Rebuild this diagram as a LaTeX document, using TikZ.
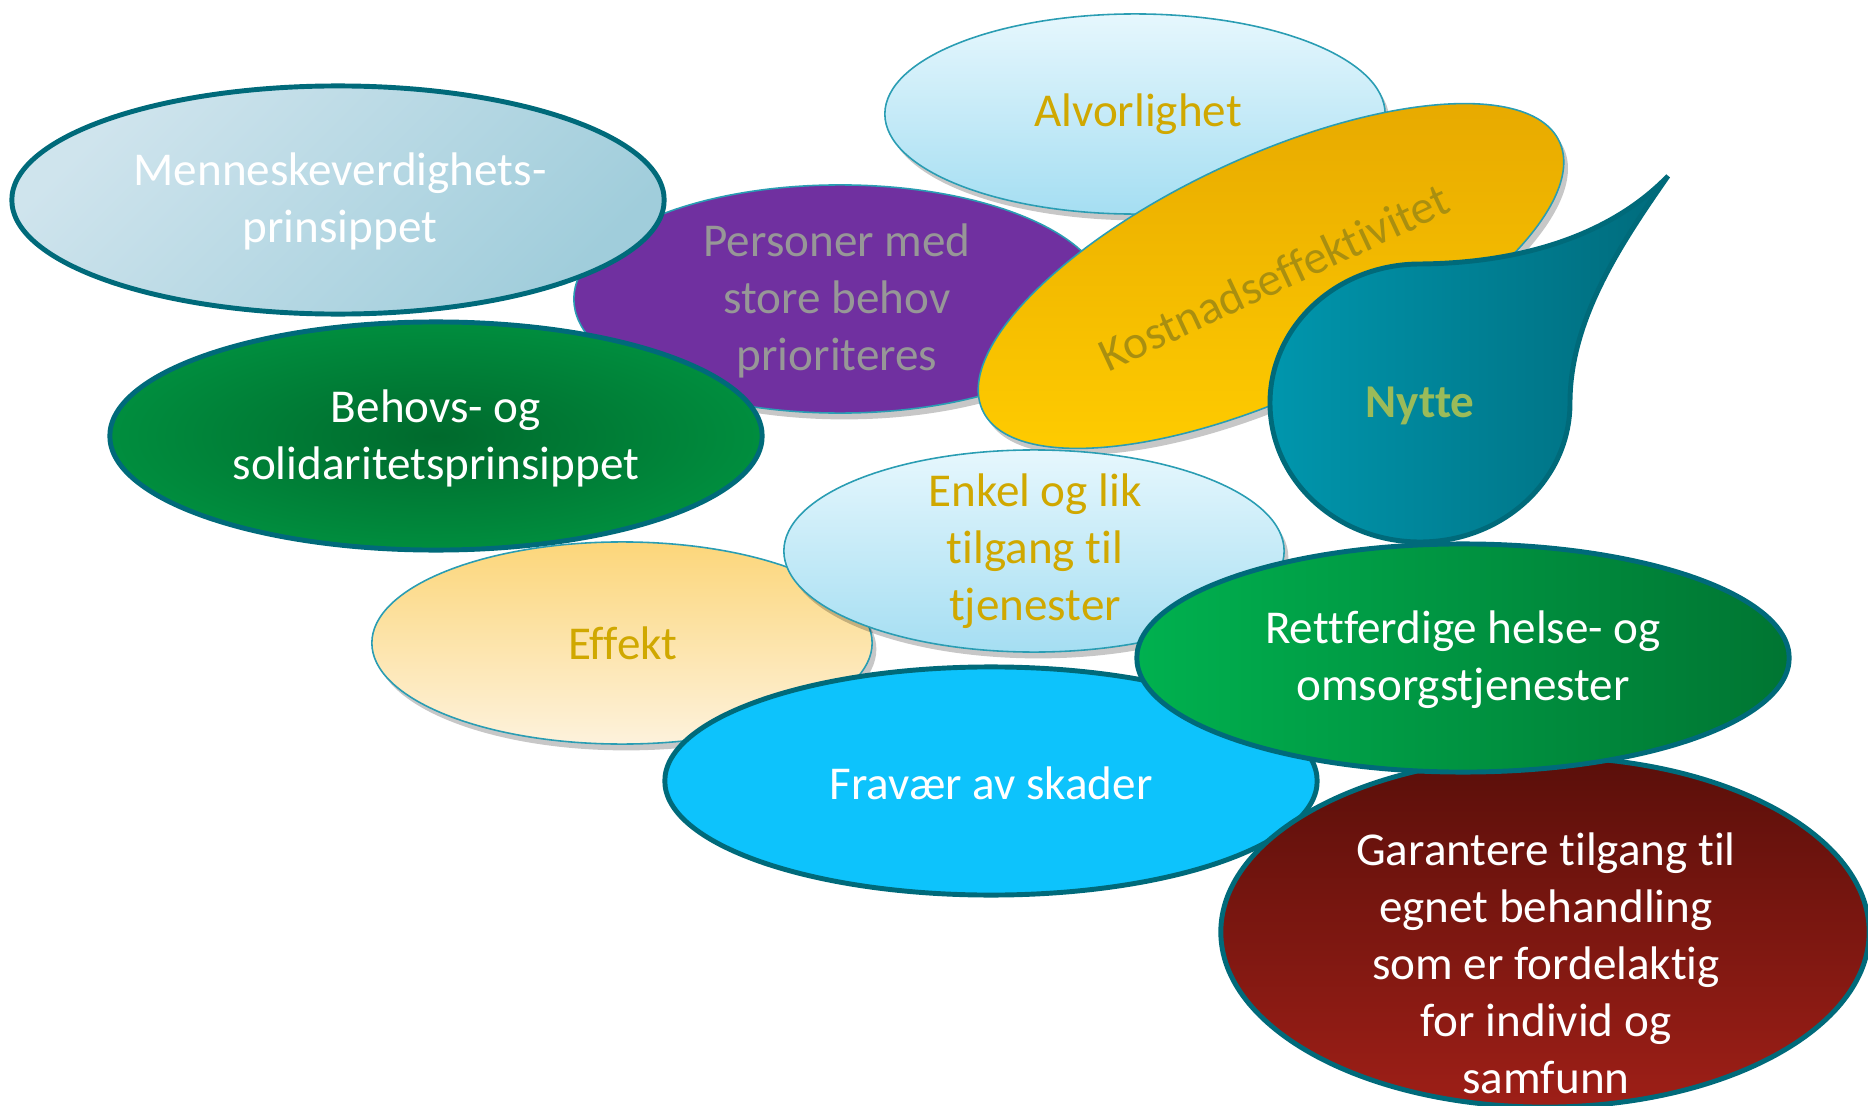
\documentclass[tikz,border=0pt]{standalone}
\usepackage{fontspec}
\setmainfont[Ligatures=NoCommon]{Carlito}
\usetikzlibrary{shapes.geometric,shadows}
\definecolor{bordc}{HTML}{006A7A}
\definecolor{thinc}{HTML}{2A9DB3}
\definecolor{mennA}{HTML}{CFE4ED}
\definecolor{mennB}{HTML}{A0CDDB}
\definecolor{alvA}{HTML}{E6F7FD}
\definecolor{alvB}{HTML}{A5DEF2}
\definecolor{purp}{HTML}{7030A0}
\definecolor{kostA}{HTML}{E6A800}
\definecolor{kostB}{HTML}{FFCC00}
\definecolor{nyL}{HTML}{0096AD}
\definecolor{nyR}{HTML}{006B7C}
\definecolor{effA}{HTML}{FCD67A}
\definecolor{effB}{HTML}{FDF2DC}
\definecolor{fravc}{HTML}{0DC3FC}
\definecolor{garA}{HTML}{5A0F0A}
\definecolor{garB}{HTML}{9E1F17}
\definecolor{gdark}{HTML}{006A2D}
\definecolor{glight}{HTML}{00B14F}
\definecolor{rettR}{HTML}{007532}
\definecolor{goldtxt}{HTML}{D0A800}
\definecolor{graytxt}{HTML}{979797}
\definecolor{kosttxt}{HTML}{A98F10}
\definecolor{nyttetxt}{HTML}{9BBB59}
\pgfdeclareradialshading{behovsrad}{\pgfpoint{0bp}{0bp}}{color(0bp)=(gdark); color(50bp)=(glight); color(75bp)=(glight)}
\newcommand{\lblfont}{\fontsize{13.4}{16.2}\selectfont}
\tikzset{
  blob/.style={ellipse, inner sep=0pt, outer sep=0pt},
  bthick/.style={draw=bordc, line width=1.4pt},
  bthin/.style={draw=thinc, line width=0.45pt},
  lbl/.style={font=\lblfont, align=center, inner sep=0pt},
  softshadow/.style={drop shadow={shadow xshift=1.2pt, shadow yshift=-1.8pt, opacity=0.22, fill=black}},
}
\begin{document}
\begin{tikzpicture}[x=0.01cm, y=-0.01cm]
\useasboundingbox (0,0) rectangle (1868,1106);
% Alvorlighet
\node[blob, bthin, softshadow, minimum width=5cm, minimum height=2cm, top color=alvA, bottom color=alvB] (alv) at (1135,114) {};
\node[lbl, text=goldtxt] (alvt) at (1138,114) {Alvorlighet};
% Personer
\node[blob, bthin, softshadow, minimum width=5.32cm, minimum height=2.28cm, fill=purp] (pers) at (840,299) {};
\node[lbl, text=graytxt] (perst) at (837,301) {Personer med\\store behov\\prioriteres};
% Menneskeverdighet
\node[blob, bthick, minimum width=6.52cm, minimum height=2.28cm, top color=mennA, bottom color=mennB, shading angle=45] (menn) at (338,200) {};
\node[lbl, text=white] (mennt) at (340,201) {Menneskeverdighets-\\prinsippet};
% Behovs
\node[blob, bthick, minimum width=6.52cm, minimum height=2.28cm, shading=behovsrad] (beh) at (436,436) {};
\node[lbl, text=white] (beht) at (436,438) {Behovs- og\\solidaritetsprinsippet};
% Kostnadseffektivitet
\node[blob, bthin, softshadow, minimum width=6.36cm, minimum height=2.38cm, rotate=25, top color=kostA, bottom color=kostB] (kost) at (1271,276) {};
\node[lbl, text=kosttxt, rotate=25] (kostt) at (1274,277) {Kostnadseffektivitet};
% Nytte drop
\path[bthick, left color=nyL, right color=nyR]
  (1420,264) .. controls (1528,263) and (1614,232) .. (1668,176)
  .. controls (1620,245) and (1570,320) .. (1570,403)
  .. controls (1570,480) and (1503,542) .. (1420,542)
  .. controls (1337,542) and (1270,480) .. (1270,403)
  .. controls (1270,326) and (1337,264) .. (1420,264) -- cycle;
\node[lbl, text=nyttetxt, font=\lblfont\bfseries] (nytte) at (1420,406) {Nytte};
% Effekt
\node[blob, bthin, softshadow, minimum width=5cm, minimum height=2.02cm, top color=effA, bottom color=effB] (eff) at (622,643) {};
\node[lbl, text=goldtxt] (efft) at (623,643) {Effekt};
% Enkel
\node[blob, bthin, softshadow, minimum width=5cm, minimum height=2.02cm, top color=alvA, bottom color=alvB] (enk) at (1034,551) {};
\node[lbl, text=goldtxt] (enkt) at (1035,551) {Enkel og lik\\tilgang til\\tjenester};
% Fravaer
\node[blob, bthick, minimum width=6.52cm, minimum height=2.28cm, fill=fravc] (frav) at (991,781) {};
\node[lbl, text=white] (fravt) at (991,783) {Fravær av skader};
% Garantere
\node[blob, bthick, minimum width=6.48cm, minimum height=3.5cm, top color=garA, bottom color=garB] (gar) at (1545,932) {};
\node[lbl, text=white] (gart) at (1546,963) {Garantere tilgang til\\egnet behandling\\som er fordelaktig\\for individ og\\samfunn};
% Rettferdige
\node[blob, bthick, minimum width=6.52cm, minimum height=2.28cm, left color=glight, right color=rettR] (rett) at (1463,658) {};
\node[lbl, text=white] (rettt) at (1463,660) {Rettferdige helse- og\\omsorgstjenester};
\end{tikzpicture}
\end{document}
